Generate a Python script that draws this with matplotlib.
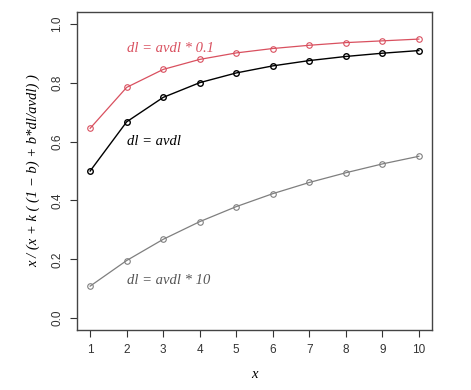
import numpy as np
import matplotlib
matplotlib.use("Agg")
import matplotlib.pyplot as plt

# values
x = [1, 2, 3, 4, 5, 6, 7, 8, 9, 10]
dl_short = [0.645, 0.784, 0.845, 0.879, 0.901, 0.916, 0.927, 0.936, 0.942, 0.948]
dl_avg = [0.500, 0.667, 0.750, 0.800, 0.833, 0.857, 0.875, 0.889, 0.900, 0.909]
dl_long = [0.109, 0.196, 0.268, 0.328, 0.379, 0.423, 0.461, 0.494, 0.524, 0.550]
y_ticks = [0.0, 0.2, 0.4, 0.6, 0.8, 1.0]

red = "#d9505f"
grey = "#7f7f7f"
serif = ["Liberation Serif", "DejaVu Serif"]

fig = plt.figure(figsize=(4.71, 3.90), dpi=100)
ax = fig.add_axes([77 / 471, 60 / 390, 355 / 471, 318 / 390])

ax.plot(x, dl_long, color=grey, lw=0.9, marker="o", ms=4, mfc="none", mew=0.8)
ax.plot(x, dl_avg, color="black", lw=1.0, marker="o", ms=4, mfc="none", mew=1.0)
ax.plot(x, dl_short, color=red, lw=0.9, marker="o", ms=4, mfc="none", mew=0.8)

ax.text(2.0, 0.915, "dl = avdl * 0.1", color=red, fontsize=10.5, family=serif, style="italic", va="center")
ax.text(2.0, 0.600, "dl = avdl", color="black", fontsize=10.5, family=serif, style="italic", va="center")
ax.text(2.0, 0.128, "dl = avdl * 10", color="#555555", fontsize=10.5, family=serif, style="italic", va="center")

ax.set_xlim(1 - 0.36, 10 + 0.36)
ax.set_ylim(-0.04, 1.04)
ax.set_xticks(x)
ax.set_yticks(y_ticks)
ax.set_yticklabels([f"{v:.1f}" for v in y_ticks], rotation=90, va="center")
ax.tick_params(direction="out", length=5, width=0.8, labelsize=8.5, colors="#333333", pad=5)
for lbl in ax.get_xticklabels() + ax.get_yticklabels():
    lbl.set_family(["Liberation Sans", "DejaVu Sans"])
for s in ax.spines.values():
    s.set_color("#444444")
    s.set_linewidth(1.0)

ax.set_xlabel("x", family=serif, style="italic", fontsize=10.5, labelpad=9)
ax.set_ylabel("x / (x + k ( (1 \u2212 b) + b*dl/avdl) )", family=serif, style="italic", fontsize=10.5, labelpad=8)

fig.savefig("out.png", dpi=100)
